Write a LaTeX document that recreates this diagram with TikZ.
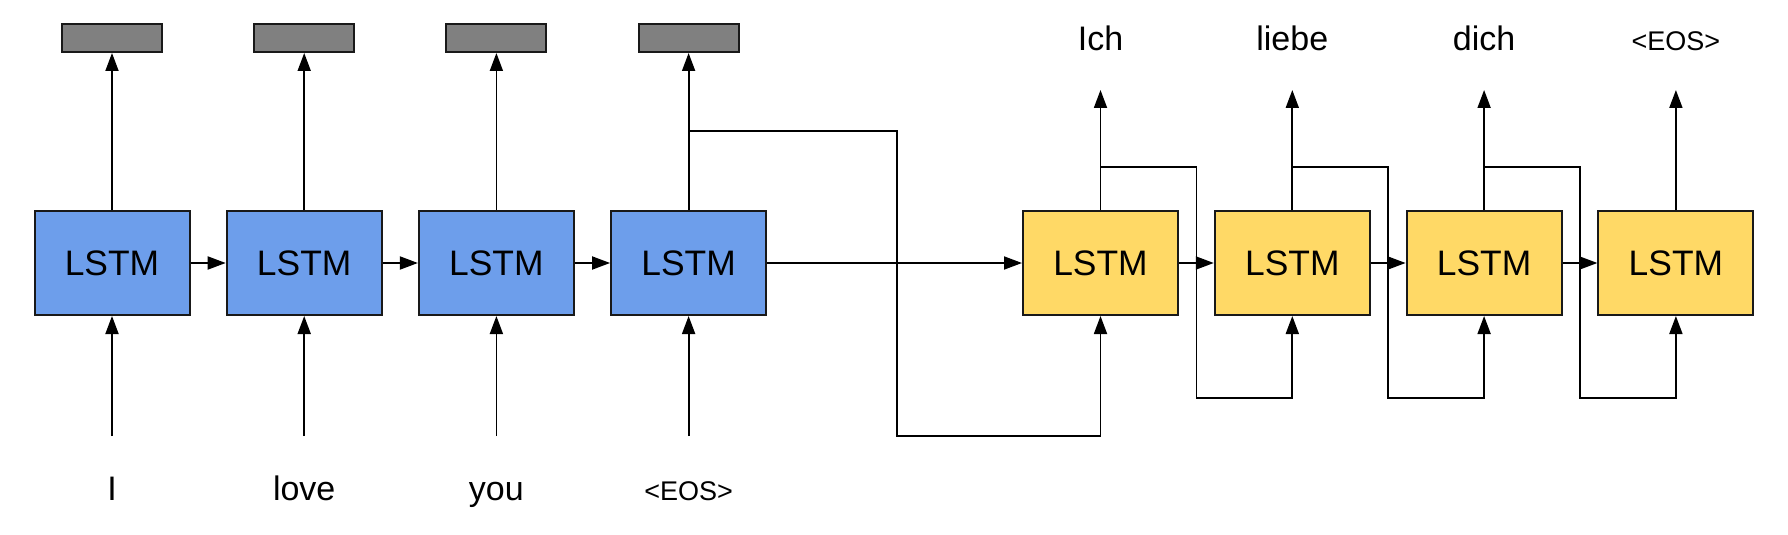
\documentclass[tikz,border=0pt]{standalone}
\usepackage{fontspec}
\setmainfont{Liberation Sans}
\usetikzlibrary{arrows.meta,calc}
\definecolor{encblue}{HTML}{6D9EEB}
\definecolor{decyel}{HTML}{FFD966}
\definecolor{outgray}{HTML}{808080}
\tikzset{
  lstmbox/.style={draw=black!90, line width=1pt, minimum width=77.5pt, minimum height=52pt, inner sep=0pt, font=\fontsize{17.7}{20}\selectfont},
  enc/.style={lstmbox, fill=encblue},
  dec/.style={lstmbox, fill=decyel},
  outbox/.style={draw=black!90, line width=1pt, fill=outgray, minimum width=50pt, minimum height=14pt, inner sep=0pt},
  word/.style={anchor=base, inner sep=0pt, font=\fontsize{17}{20}\selectfont},
  eos/.style={anchor=base, inner sep=0pt, font=\fontsize{13.5}{16}\selectfont},
  conn/.style={line width=0.9pt, draw=black},
  arr/.style={conn, -{Triangle[length=9pt, width=6.5pt]}},
}
\begin{document}
\begin{tikzpicture}[x=0.5pt, y=-0.5pt]
\useasboundingbox (0,0) rectangle (1788,535);
% encoder
\foreach \i/\w/\s in {1/I/word, 2/love/word, 3/you/word, 4/{<EOS>}/eos} {
  \pgfmathsetmacro\xx{112+192.2*(\i-1)}
  \node[enc] (b\i) at (\xx,263) {LSTM};
  \node[outbox] (g\i) at (\xx,38) {};
  \coordinate (in\i) at (\xx,436);
  \node[\s] (w\i) at (\xx,500) {\w};
  \draw[arr] (in\i) -- (b\i.south);
  \draw[arr] (b\i.north) -- (g\i.south);
}
\foreach \i/\j in {1/2, 2/3, 3/4} {
  \draw[arr] (b\i.east) -- (b\j.west);
}
% decoder
\foreach \i/\w/\s in {1/Ich/word, 2/liebe/word, 3/dich/word, 4/{<EOS>}/eos} {
  \pgfmathsetmacro\xx{1100.5+191.8*(\i-1)}
  \node[dec] (y\i) at (\xx,263) {LSTM};
  \coordinate (top\i) at (\xx,90);
  \node[\s] (o\i) at (\xx,51) {\w};
  \draw[arr] (y\i.north) -- (top\i);
}
\foreach \i/\j in {1/2, 2/3, 3/4} {
  \draw[arr] (y\i.east) -- (y\j.west);
}
% encoder -> decoder
\draw[arr] (b4.east) -- (y1.west);
\coordinate (h131) at (0,131);
\coordinate (v897) at (897,0);
\coordinate (h436) at (0,436);
\draw[arr] (b4.north |- h131) -- (v897 |- h131) -- (v897 |- h436) -- (y1.south |- h436) -- (y1.south);
% decoder feedback
\coordinate (h167) at (0,167);
\coordinate (h398) at (0,398);
\foreach \i/\j in {1/2, 2/3, 3/4} {
  \coordinate (m\i) at ($(y\i.east)!0.5!(y\j.west)$);
  \draw[arr] (y\i.north |- h167) -- (m\i |- h167) -- (m\i |- h398) -- (y\j.south |- h398) -- (y\j.south);
}
\end{tikzpicture}
\end{document}
